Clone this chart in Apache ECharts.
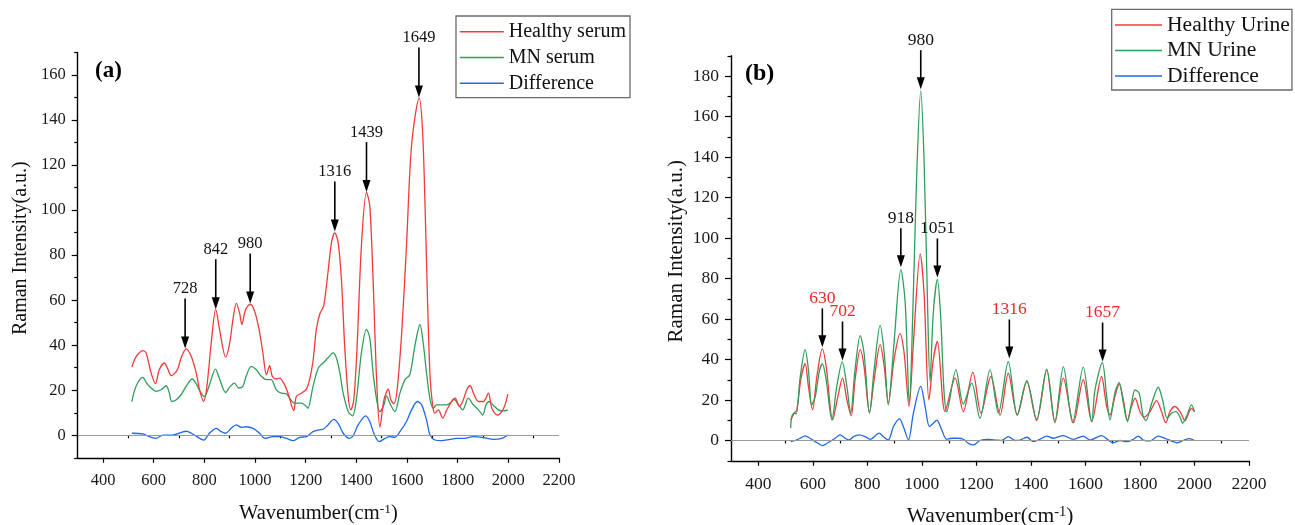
<!DOCTYPE html>
<html>
<head>
<meta charset="utf-8">
<script src="https://cdn.jsdelivr.net/npm/echarts@6/dist/echarts.min.js"></script>
<style>
  html, body { margin: 0; padding: 0; background: #fff; }
  #chart { width: 1295px; height: 525px; }
</style>
</head>
<body>
<div id="chart"></div>
<script>
// (a) serum spectra
const healthySerumX = [514,530,557,570,590,607,622,642,656,669,682,695,708,728,748,768,781,797,810,827,845,860,884,899,913,926,939,948,963,981,998,1016,1031,1045,1058,1068,1084,1097,1117,1130,1153,1163,1183,1203,1216,1229,1242,1256,1271,1288,1302,1315,1328,1341,1354,1368,1378,1390,1403,1420,1440,1453,1466,1480,1493,1509,1526,1536,1548,1561,1579,1598,1618,1648,1661,1671,1681,1691,1701,1710,1724,1741,1757,1776,1790,1807,1822,1836,1849,1865,1882,1902,1921,1935,1957,1974,1987,1998]
const healthySerumY = [30.3,34.8,37.6,36.6,27.6,22.9,29.1,32.1,29.4,26.5,27.4,29.4,34.3,38.4,35.1,27.6,20.2,15.0,21.7,41.0,55.9,47.0,34.8,40.3,51.5,58.6,54.4,49.2,55.9,58.2,55.2,47.0,36.6,26.9,30.9,26.2,25.0,25.4,22.4,18.7,11.0,17.2,18.7,20.5,25,33,47,54,57.4,72.3,85.7,89.9,85.7,69.3,39.6,17.2,11.3,15.8,39.6,84.2,108,102,69.3,24.7,3.6,15.8,20.5,15.8,14.0,20.2,45.5,84.2,128.8,149.7,136,103,60,26,13.5,9.8,11.3,7.6,11.3,15.0,16.5,12.8,15.7,20.2,22.0,18,15.0,15.0,18.7,12.0,9.0,10.5,13.5,18.3]
const mnSerumX = [514,530,557,572,590,609,629,649,662,671,688,708,728,752,770,787,800,818,844,860,884,902,919,936,952,965,985,1005,1025,1044,1064,1084,1104,1124,1137,1156,1183,1203,1209,1229,1250,1269,1288,1308,1321,1335,1348,1368,1385,1400,1420,1440,1453,1469,1493,1509,1519,1535,1552,1572,1592,1611,1631,1651,1664,1677,1691,1704,1717,1737,1757,1770,1786,1803,1820,1842,1862,1882,1899,1912,1924,1939,1961,1981,1998]
const mnSerumY = [15.0,21.7,25.7,23.2,21.0,19.5,20.2,22.0,18.7,15.0,15.7,18.0,21.7,25.0,22.4,18.7,17.2,21.7,29.4,25.0,19.0,21.7,23.2,21.0,21.7,26.2,30.6,29.1,26.2,24.7,24.7,20.2,18.7,18.4,16.5,14.3,14.3,12.8,12.0,21.7,30,32.1,34.4,36.6,34.4,27.7,18.7,10.5,8.6,15.8,36.6,47.0,43.3,24.7,10.5,13.5,17.5,13.5,10.5,18.7,24.7,26.9,39.6,49.2,41,27.7,15.8,12,13.5,13.5,13.5,14.3,16,13.5,11.3,16.5,13.5,11.3,9.0,13.5,15.0,13.5,11.3,10.8,11.3]
const diffSerumX = [514,557,583,609,636,675,715,728,761,797,820,847,867,884,906,926,946,965,992,1018,1038,1071,1097,1124,1150,1176,1203,1229,1253,1269,1288,1311,1328,1348,1372,1387,1407,1437,1453,1469,1490,1513,1532,1552,1572,1598,1618,1641,1658,1677,1691,1710,1737,1770,1796,1822,1862,1902,1941,1974,1998]
const diffSerumY = [0.9,0.6,-0.6,-1.4,0.1,0.1,1.5,1.8,0.1,-2.1,0.9,3.1,1.6,0.9,3.1,4.6,3.5,3.8,3.1,0.9,-1.4,-0.6,-0.6,-1.4,-2.4,-0.9,-0.6,1.6,2.4,2.7,4.6,7.1,5.3,0.9,-1.4,-0.3,4.6,8.6,6.1,0.9,-2.8,-1.4,-0.6,-0.9,1.6,6.1,11.3,15.0,13.5,6.8,0.1,-2.1,-2.4,-1.8,-1.4,-1.4,-0.6,-1.0,-1.8,-1.4,0.1]

// (b) urine spectra
const healthyUrineX = [519,532,541,556,572,584,599,615,635,649,673,692,709,725,741,755,774,788,808,825,847,862,877,898,920,935,953,969,994,1008,1026,1042,1057,1085,1122,1152,1187,1217,1253,1287,1317,1350,1385,1421,1458,1488,1519,1556,1592,1623,1659,1678,1690,1708,1724,1739,1754,1769,1782,1800,1815,1837,1861,1879,1895,1910,1928,1947,1965,1981,1989,2000]
const healthyUrineY = [10.2,13.5,14.8,30,37.9,26.7,15.2,31.6,45.2,36.6,10.2,21.7,30.8,20.1,12.2,30,44.9,36.6,13.8,30,47.3,36.6,18.4,39.9,52.8,43.2,16.8,48.1,92.2,72.9,20.1,39.9,48.9,14.3,30.8,14.3,33.6,13.5,31.6,12.6,33.2,12.6,29.1,9.8,34.9,8.8,30.8,8.8,30,9.3,31.6,16.8,12.6,21.7,28,20.1,10.1,16.8,20.9,14.3,11.5,14.3,19.7,14.3,8.8,14.3,16.8,14.3,9.8,14.3,15.9,14.3]
const mnUrineX = [519,523,532,539,554,572,584,596,609,624,635,649,670,688,708,725,739,755,774,788,808,825,847,862,877,898,923,939,954,969,981,996,1008,1020,1030,1042,1057,1069,1081,1091,1125,1152,1183,1213,1250,1281,1317,1350,1385,1421,1458,1488,1519,1553,1592,1623,1635,1662,1678,1690,1708,1724,1739,1754,1769,1782,1797,1812,1822,1843,1867,1883,1900,1916,1932,1949,1956,1973,1989,2000]
const mnUrineY = [6.1,11.9,13.5,13.2,31.6,44.9,34.9,17.6,21.7,34.1,37.9,30,10.2,26.7,38.8,26.7,13.5,35,51.8,43.2,13.5,35,56.9,43.2,17.6,48.1,84.4,67.9,18.4,72.9,130.6,172.7,138.9,72.9,29.2,63,79.5,61.3,25,14.3,34.9,18,28.3,11,34.9,13.5,39,12.6,29.6,10.5,35.2,9.3,36.5,8.8,36.2,9.3,25,38.5,21.7,10.1,23.4,28.6,18.4,9.3,18.4,25,23.4,11.8,9.8,18.4,26.3,20.1,11,13.5,14.3,11,8.5,12.6,17.6,14.3]
const diffUrineX = [519,535,554,572,590,615,635,657,682,700,719,733,749,771,792,810,844,859,877,896,918,932,951,969,996,1012,1028,1042,1055,1073,1091,1110,1134,1152,1171,1189,1213,1244,1275,1293,1317,1342,1360,1385,1409,1433,1458,1482,1519,1556,1592,1617,1659,1684,1702,1727,1751,1776,1794,1812,1837,1867,1892,1922,1937,1959,1981,2000]
const diffUrineY = [-0.5,0,1.1,2.3,1.1,-1.0,-2.5,-1.0,1.1,2.8,1.1,0.3,1.9,2.8,1.9,0.6,3.6,1.9,0.3,6.9,10.7,6.9,0.3,13.5,26.7,16.8,6.9,8.5,10.1,5.2,0.6,1.1,1.1,0.6,-1.4,-2.2,0,0.6,0.2,0,1.9,0,0.2,1.6,-0.6,0.6,2.2,1.1,2.4,0.6,2.2,0.2,2.4,0.2,-1.1,0,-0.6,0.6,2.2,0.2,-0.2,2.2,1.1,-0.6,-1.1,0,0.9,0]

// peak annotations
const peaksA = ['728', '842', '980', '1316', '1439', '1649']
const peaksAX = [724, 845, 981, 1315, 1440, 1647]
const peaksAY = [38.5, 56, 58.5, 90.5, 108, 150]
const peaksB = ['630', '702', '918', '980', '1051', '1316', '1657']
const peaksBX = [635, 709, 923, 996, 1057, 1321, 1663]
const peaksBY = [46, 39.5, 85.5, 173.5, 80.5, 40.5, 39]
const peaksBRed = [true, true, false, false, false, true, true]

// axis ticks
const xLabels = [400, 600, 800, 1000, 1200, 1400, 1600, 1800, 2000, 2200]
const xMinor = [300, 500, 700, 900, 1100, 1300, 1500, 1700, 1900, 2100]
const yLabelsA = [0, 20, 40, 60, 80, 100, 120, 140, 160]
const yMinorA = [-10, 10, 30, 50, 70, 90, 110, 130, 150, 170]
const yLabelsB = [0, 20, 40, 60, 80, 100, 120, 140, 160, 180]
const yMinorB = [-10, 10, 30, 50, 70, 90, 110, 130, 150, 170, 190]

const SERIF = '"Liberation Serif", "Times New Roman", serif'
const RED = '#f23a3a'
const GREEN = '#2f9e5c'
const BLUE = '#1e6ae6'

const zip = (xs, ys) => xs.map((x, i) => [x, ys[i]])

function xAxisPair (grid, fs, gap) {
  return [
    {
      type: 'value', gridIndex: grid, min: 300, max: 2200, position: 'bottom',
      axisLine: { onZero: false, lineStyle: { color: '#000', width: 1.4 } },
      axisTick: { length: 5, customValues: xLabels, lineStyle: { color: '#000', width: 1.2 } },
      axisLabel: { customValues: xLabels, margin: 14.5, formatter: v => String(v), fontFamily: SERIF, fontSize: fs, color: '#1a1a1a' },
      splitLine: { show: false },
      name: 'Wavenumber(cm{s|-1})',
      nameLocation: 'middle',
      nameGap: gap,
      nameTextStyle: {
        fontFamily: SERIF, fontSize: fs + 4, color: '#111',
        rich: { s: { fontFamily: SERIF, fontSize: fs - 3, verticalAlign: 'top', padding: [0, 0, 8, 0] } }
      }
    },
    {
      type: 'value', gridIndex: grid, min: 300, max: 2200, position: 'bottom',
      axisLine: { show: false },
      axisTick: { length: 3, customValues: xMinor, lineStyle: { color: '#000', width: 1.2 } },
      axisLabel: { show: false },
      splitLine: { show: false }
    }
  ]
}

function yAxisPair (grid, max, labels, minor, fs, gap) {
  return [
    {
      type: 'value', gridIndex: grid, min: -10, max: max, position: 'left',
      axisLine: { show: true, onZero: false, lineStyle: { color: '#000', width: 1.4 } },
      axisTick: { show: true, length: 6, customValues: labels, lineStyle: { color: '#000', width: 1.2 } },
      axisLabel: { customValues: labels, margin: 12, formatter: v => String(v), fontFamily: SERIF, fontSize: fs, color: '#1a1a1a' },
      splitLine: { show: false },
      name: 'Raman Intensity(a.u.)',
      nameLocation: 'middle',
      nameRotate: 90,
      nameGap: gap,
      nameTextStyle: { fontFamily: SERIF, fontSize: fs + 3.5, color: '#111', padding: [0, 0, 0, 14] }
    },
    {
      type: 'value', gridIndex: grid, min: -10, max: max, position: 'left',
      axisLine: { show: false },
      axisTick: { show: true, length: 3.5, customValues: minor, lineStyle: { color: '#000', width: 1.2 } },
      axisLabel: { show: false },
      splitLine: { show: false }
    }
  ]
}

function spectrum (name, xs, ys, color, axis, extra) {
  return Object.assign({
    type: 'line', name: name, xAxisIndex: axis, yAxisIndex: axis,
    data: zip(xs, ys), smooth: 0.3, symbol: 'none', animation: false,
    lineStyle: { color: color, width: 1.3 }, itemStyle: { color: color }
  }, extra || {})
}

const zeroLine = {
  markLine: {
    silent: true, symbol: 'none', animation: false,
    label: { show: false },
    lineStyle: { color: '#9a9a9a', width: 1, type: 'solid' },
    data: [{ yAxis: 0 }]
  }
}

function arrows (axis, names, xs, ys, colors, len, fs) {
  return {
    type: 'custom', xAxisIndex: axis, yAxisIndex: axis, silent: true, clip: false, z: 10, animation: false,
    data: zip(xs, ys),
    encode: { x: 0, y: 1 },
    renderItem (params, api) {
      const i = params.dataIndex
      const p = api.coord([api.value(0), api.value(1)])
      const x = p[0]
      const y = p[1]
      return {
        type: 'group',
        children: [
          { type: 'line', shape: { x1: x, y1: y - len, x2: x, y2: y - 9 }, style: { stroke: '#000', lineWidth: 1.6 } },
          { type: 'polygon', shape: { points: [[x - 4, y - 12], [x + 4, y - 12], [x, y]] }, style: { fill: '#000' } },
          {
            type: 'text', x: x, y: y - len - 1,
            style: { text: names[i], align: 'center', verticalAlign: 'bottom', fontFamily: SERIF, fontSize: fs, fill: colors[i] }
          }
        ]
      }
    }
  }
}

const chart = echarts.init(document.getElementById('chart'), null, { renderer: 'canvas' })

const xa = xAxisPair(0, 16.5, 45)
const xb = xAxisPair(1, 17.5, 44)
const ya = yAxisPair(0, 170, yLabelsA, yMinorA, 16.5, 47)
const yb = yAxisPair(1, 190, yLabelsB, yMinorB, 17.5, 44)

const legendBase = {
  orient: 'vertical', selectedMode: false, borderColor: '#6a6a6a', borderWidth: 1.3,
  icon: 'rect', itemHeight: 1.6
}

chart.setOption({
  animation: false,
  backgroundColor: '#fff',
  title: [
    { text: '(a)', left: 95, top: 60, padding: 0, textStyle: { fontFamily: SERIF, fontWeight: 'bold', fontSize: 23, color: '#000' } },
    { text: '(b)', left: 745, top: 62, padding: 0, textStyle: { fontFamily: SERIF, fontWeight: 'bold', fontSize: 24, color: '#000' } }
  ],
  legend: [
    Object.assign({}, legendBase, {
      data: ['Healthy serum', 'MN serum', 'Difference'],
      left: 456, top: 16, itemWidth: 44, itemGap: 5.8, padding: [5.7, 4, 4.4, 3.8],
      textStyle: { fontFamily: SERIF, fontSize: 20, color: '#111', lineHeight: 20 }
    }),
    Object.assign({}, legendBase, {
      data: ['Healthy Urine', 'MN Urine', 'Difference '],
      left: 1111.7, top: 9.3, itemWidth: 47, itemGap: 3.5, padding: [4.7, 2, 3, 3.3],
      textStyle: { fontFamily: SERIF, fontSize: 21.6, color: '#111', lineHeight: 22 }
    })
  ],
  grid: [
    { left: 77.7, top: 52.5, width: 481.3, height: 405.3, outerBoundsMode: 'none', containLabel: false },
    { left: 731, top: 55.75, width: 518, height: 405, outerBoundsMode: 'none', containLabel: false }
  ],
  xAxis: [xa[0], xa[1], xb[0], xb[1]],
  yAxis: [ya[0], ya[1], yb[0], yb[1]],
  series: [
    spectrum('Difference', diffSerumX, diffSerumY, BLUE, 0, zeroLine),
    spectrum('MN serum', mnSerumX, mnSerumY, GREEN, 0),
    spectrum('Healthy serum', healthySerumX, healthySerumY, RED, 0),
    arrows(0, peaksA, peaksAX, peaksAY, peaksA.map(() => '#111'), 50, 16.5),
    spectrum('Difference ', diffUrineX, diffUrineY, BLUE, 2, zeroLine),
    spectrum('Healthy Urine', healthyUrineX, healthyUrineY, RED, 2),
    spectrum('MN Urine', mnUrineX, mnUrineY, GREEN, 2),
    arrows(2, peaksB, peaksBX, peaksBY, peaksBRed.map(r => r ? '#f02828' : '#111'), 39, 17.5)
  ]
})
</script>
</body>
</html>
